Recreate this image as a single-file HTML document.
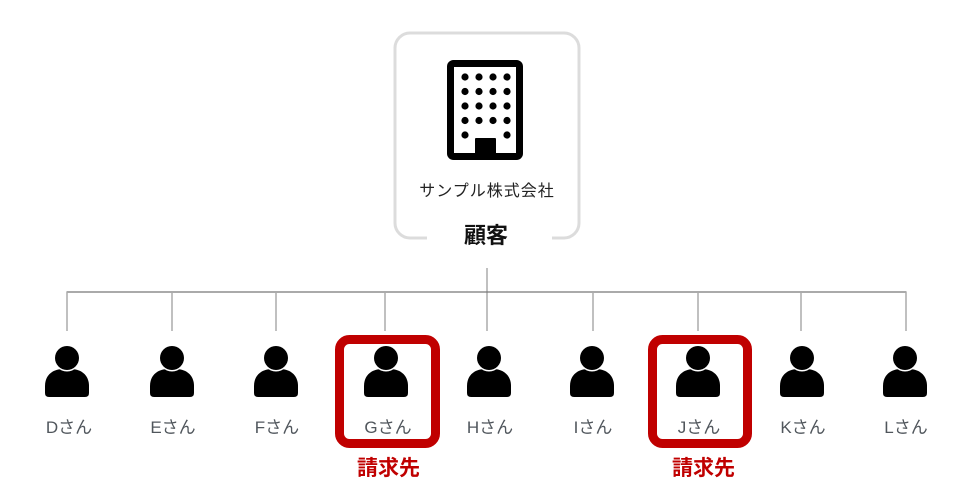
<!DOCTYPE html>
<html>
<head>
<meta charset="utf-8">
<style>
  html,body{margin:0;padding:0;background:#fff;}
  svg{display:block;}
  .lbl{font-family:"Liberation Sans","Noto Sans CJK JP",sans-serif;font-size:17px;fill:#50565c;text-anchor:middle;}
  .red{font-family:"Liberation Sans","Noto Sans CJK JP",sans-serif;font-size:21px;font-weight:bold;fill:#c00000;text-anchor:middle;}
</style>
</head>
<body>
<svg width="970" height="497" viewBox="0 0 970 497" xmlns="http://www.w3.org/2000/svg">
  <defs>
    <g id="person">
      <path d="M-22 393 V386 C-22 375 -14 369 -4 369 H4 C14 369 22 375 22 386 V393 Q22 397 18 397 H-18 Q-22 397 -22 393 Z" fill="#000"/>
      <circle cx="0" cy="358" r="13.5" fill="#fff"/>
      <circle cx="0" cy="358" r="12" fill="#000"/>
    </g>
  </defs>

  <!-- top box -->
  <path d="M427 238 H410 A15 15 0 0 1 395 223 V48 A15 15 0 0 1 410 33 H564 A15 15 0 0 1 579 48 V223 A15 15 0 0 1 564 238 H552" fill="none" stroke="#dcdcdc" stroke-width="3"/>

  <!-- building -->
  <rect x="450.5" y="63.5" width="69" height="93" rx="3" fill="none" stroke="#000" stroke-width="7"/>
  <g fill="#000">
    <circle cx="465" cy="77" r="3.6"/><circle cx="479" cy="77" r="3.6"/><circle cx="493" cy="77" r="3.6"/><circle cx="507" cy="77" r="3.6"/>
    <circle cx="465" cy="91.5" r="3.6"/><circle cx="479" cy="91.5" r="3.6"/><circle cx="493" cy="91.5" r="3.6"/><circle cx="507" cy="91.5" r="3.6"/>
    <circle cx="465" cy="106" r="3.6"/><circle cx="479" cy="106" r="3.6"/><circle cx="493" cy="106" r="3.6"/><circle cx="507" cy="106" r="3.6"/>
    <circle cx="465" cy="120.5" r="3.6"/><circle cx="479" cy="120.5" r="3.6"/><circle cx="493" cy="120.5" r="3.6"/><circle cx="507" cy="120.5" r="3.6"/>
    <circle cx="465" cy="135" r="3.6"/><circle cx="507" cy="135" r="3.6"/>
    <rect x="475" y="138" width="21" height="20" rx="1"/>
  </g>

  <text x="487" y="196" font-family="Liberation Sans, Noto Sans CJK JP, sans-serif" font-size="16" letter-spacing="1" fill="#222" text-anchor="middle">サンプル株式会社</text>
  <text x="486" y="243" font-family="Liberation Sans, Noto Sans CJK JP, sans-serif" font-size="22" font-weight="bold" fill="#111" text-anchor="middle">顧客</text>

  <!-- connectors -->
  <line x1="487" y1="268" x2="487" y2="331" stroke="#aaa" stroke-width="1.5"/>
  <line x1="66.5" y1="292" x2="906.5" y2="292" stroke="#777" stroke-width="1.3"/>
  <g stroke="#aaa" stroke-width="1.5">
    <line x1="67" y1="292" x2="67" y2="331"/>
    <line x1="172" y1="292" x2="172" y2="331"/>
    <line x1="276" y1="292" x2="276" y2="331"/>
    <line x1="385" y1="292" x2="385" y2="331"/>
    <line x1="593" y1="292" x2="593" y2="331"/>
    <line x1="698" y1="292" x2="698" y2="331"/>
    <line x1="801" y1="292" x2="801" y2="331"/>
    <line x1="906" y1="292" x2="906" y2="331"/>
  </g>

  <!-- red boxes -->
  <rect x="339.5" y="339.5" width="96" height="104" rx="10" fill="none" stroke="#c00000" stroke-width="9"/>
  <rect x="652.5" y="339.5" width="95" height="104" rx="10" fill="none" stroke="#c00000" stroke-width="9"/>

  <!-- persons -->
  <use href="#person" x="67" y="0"/>
  <use href="#person" x="172" y="0"/>
  <use href="#person" x="276" y="0"/>
  <use href="#person" x="386" y="0"/>
  <use href="#person" x="489" y="0"/>
  <use href="#person" x="592" y="0"/>
  <use href="#person" x="698" y="0"/>
  <use href="#person" x="802" y="0"/>
  <use href="#person" x="905" y="0"/>

  <!-- labels -->
  <text class="lbl" x="69" y="433">Dさん</text>
  <text class="lbl" x="173" y="433">Eさん</text>
  <text class="lbl" x="277" y="433">Fさん</text>
  <text class="lbl" x="388" y="433">Gさん</text>
  <text class="lbl" x="490" y="433">Hさん</text>
  <text class="lbl" x="593" y="433">Iさん</text>
  <text class="lbl" x="699" y="433">Jさん</text>
  <text class="lbl" x="803" y="433">Kさん</text>
  <text class="lbl" x="906" y="433">Lさん</text>

  <text class="red" x="388.5" y="475">請求先</text>
  <text class="red" x="703.5" y="475">請求先</text>
</svg>
</body>
</html>
